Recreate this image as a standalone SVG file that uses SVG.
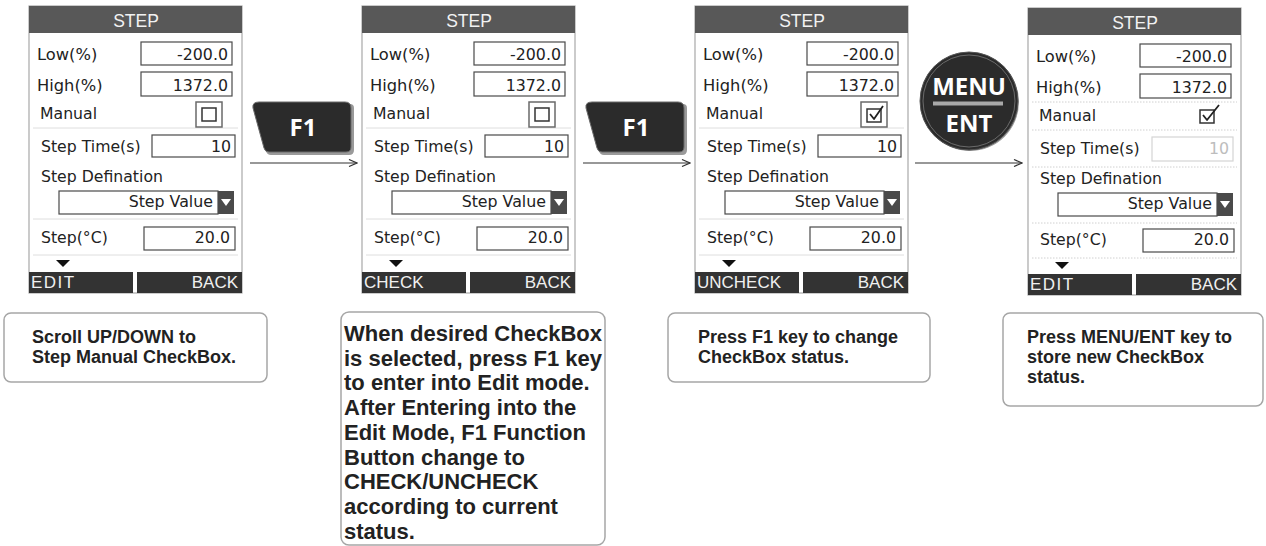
<svg xmlns="http://www.w3.org/2000/svg" width="1266" height="546" viewBox="0 0 1266 546">
<style>
.bg{fill:#ffffff}
.outer{fill:#ffffff;stroke:#a8a8a8;stroke-width:1.2}
.title{fill:#585858}
.ttl{font-family:"Liberation Sans",Arial,sans-serif;font-size:17.5px;fill:#f2f2f2;text-anchor:middle}
.lbl{font-family:"DejaVu Sans",Verdana,sans-serif;font-size:15.7px;fill:#222}
.lbl2{font-family:"DejaVu Sans",Verdana,sans-serif;font-size:16.3px;fill:#222}
.val{font-family:"DejaVu Sans",Verdana,sans-serif;font-size:15.8px;fill:#222;text-anchor:end}
.dis{font-family:"DejaVu Sans",Verdana,sans-serif;font-size:15.8px;fill:#bdbdbd;text-anchor:end}
.box{fill:#ffffff;stroke:#4a4a4a;stroke-width:1.2}
.dbox{fill:#ffffff;stroke:#d4d4d4;stroke-width:1.2}
.sep{stroke:#dedede;stroke-width:1}
.dsep{stroke:#d0d0d0;stroke-width:1;stroke-dasharray:1.5 1.5}
.bar{fill:#333333}
.btn{font-family:"Liberation Sans",Arial,sans-serif;font-size:17px;fill:#f0f0f0}
.ddarr{fill:#4a4a4a}
.cbo{fill:#ffffff;stroke:#6a6a6a;stroke-width:1.5}
.cbi{fill:#ffffff;stroke:#333;stroke-width:1.5}
.chk{fill:none;stroke:#222;stroke-width:1.8;stroke-linejoin:round}
.note{fill:#ffffff;stroke:#a6a6a6;stroke-width:1.5}
.nt{font-family:"Liberation Sans",Arial,sans-serif;font-weight:bold;font-size:18px;fill:#222}
.nt2{font-family:"Liberation Sans",Arial,sans-serif;font-weight:bold;font-size:22px;fill:#222}
.key{fill:#2b2b2b;stroke:#6a6a6a;stroke-width:1}
.keyshadow{fill:#9a9a9a}
.kt{font-family:"Open Sans","DejaVu Sans",sans-serif;font-weight:bold;font-size:24px;fill:#ffffff;text-anchor:middle}
.conn{stroke:#333;stroke-width:1.2;fill:none}
</style>
<defs>
<marker id="arr" markerUnits="userSpaceOnUse" markerWidth="10" markerHeight="8" refX="9" refY="4" orient="auto">
<path d="M1,0.5 L9,4 L1,7.5" fill="none" stroke="#333" stroke-width="1.2"/>
</marker>
<g id="frame">
<rect class="outer" x="29" y="6" width="213" height="287"/>
<rect class="title" x="29" y="6" width="213" height="27"/>
<text class="ttl" x="136" y="27">STEP</text>
<text class="lbl2" x="37" y="60">Low(%)</text>
<rect class="box" x="141" y="42" width="91" height="23"/>
<text class="val" x="228" y="60">-200.0</text>
<text class="lbl2" x="37" y="91">High(%)</text>
<rect class="box" x="141" y="72" width="91" height="24"/>
<text class="val" x="228" y="91">1372.0</text>
<text class="lbl" x="40" y="119">Manual</text>
<text class="lbl" x="41" y="152">Step Time(s)</text>
<text class="lbl" x="41" y="182">Step Defination</text>
<rect class="box" x="59" y="191" width="159" height="23"/>
<rect class="ddarr" x="218" y="191" width="16" height="23"/>
<path d="M221,199 L231,199 L226,206 Z" fill="#ffffff"/>
<text class="val" x="213" y="207">Step Value</text>
<text class="lbl" x="41" y="243">Step(°C)</text>
<rect class="box" x="144" y="227" width="91" height="23"/>
<text class="val" x="230" y="243">20.0</text>
<path d="M56,260 L70,260 L63,267 Z" fill="#111"/>
<rect class="bar" x="29" y="272" width="104" height="21"/>
<rect class="bar" x="137" y="272" width="105" height="21"/>
<text class="btn" x="238" y="288" text-anchor="end">BACK</text>
</g>
</defs>
<rect class="bg" x="0" y="0" width="1266" height="546"/>

<g id="screen1">
<use href="#frame"/>
<line class="sep" x1="33" y1="128" x2="238" y2="128"/>
<line class="sep" x1="33" y1="219" x2="238" y2="219"/>
<line class="sep" x1="33" y1="255" x2="238" y2="255"/>
<rect class="cbo" x="196" y="102" width="26" height="25"/>
<rect class="cbi" x="202" y="108" width="14" height="13"/>
<rect class="box" x="152" y="135" width="83" height="22"/>
<text class="val" x="231" y="152">10</text>
<text class="btn" x="31" y="288" letter-spacing="1.5">EDIT</text>
</g>

<g id="screen2" transform="translate(333,0)">
<use href="#frame"/>
<line class="sep" x1="33" y1="128" x2="238" y2="128"/>
<line class="sep" x1="33" y1="219" x2="238" y2="219"/>
<line class="sep" x1="33" y1="255" x2="238" y2="255"/>
<rect class="cbo" x="196" y="102" width="26" height="25"/>
<rect class="cbi" x="202" y="108" width="14" height="13"/>
<rect class="box" x="152" y="135" width="83" height="22"/>
<text class="val" x="231" y="152">10</text>
<text class="btn" x="31" y="288">CHECK</text>
</g>

<g id="screen3" transform="translate(666,0)">
<use href="#frame"/>
<line class="sep" x1="33" y1="128" x2="238" y2="128"/>
<line class="sep" x1="33" y1="219" x2="238" y2="219"/>
<line class="sep" x1="33" y1="255" x2="238" y2="255"/>
<rect class="cbo" x="195" y="102" width="26" height="25"/>
<rect class="cbi" x="201" y="109" width="14" height="13"/>
<path class="chk" d="M204,114 L208,119 L217,106"/>
<rect class="box" x="152" y="135" width="83" height="22"/>
<text class="val" x="231" y="152">10</text>
<text class="btn" x="31" y="288">UNCHECK</text>
</g>

<g id="screen4" transform="translate(999,2)">
<use href="#frame"/>
<line class="dsep" x1="33" y1="100" x2="238" y2="100"/>
<line class="dsep" x1="33" y1="128" x2="238" y2="128"/>
<line class="dsep" x1="33" y1="165" x2="238" y2="165"/>
<line class="dsep" x1="33" y1="221" x2="238" y2="221"/>
<line class="dsep" x1="33" y1="256" x2="238" y2="256"/>
<rect class="cbi" x="201" y="108" width="14" height="13"/>
<path class="chk" d="M204,113 L208,118 L220,103"/>
<rect class="dbox" x="153" y="135" width="81" height="24"/>
<text class="dis" x="230" y="152">10</text>
<text class="btn" x="31" y="288" letter-spacing="1.5">EDIT</text>
</g>

<g id="keyF1a">
<path class="keyshadow" d="M261,104 L350,104 Q354,104 354,108 L354,150 Q354,155 349,155 L271,155 Q267,155 266,151 L255,110 Q254,104 261,104 Z"/>
<path class="key" d="M259,102 L345,102 Q351,102 351,108 L351,147 Q351,152 346,152 L269,152 Q265,152 264,148 L253,108 Q252,102 259,102 Z"/>
<text class="kt" x="303" y="136">F1</text>
</g>

<g id="keyF1b">
<path class="keyshadow" d="M594,104 L683,104 Q687,104 687,108 L687,150 Q687,155 682,155 L604,155 Q600,155 599,151 L588,110 Q587,104 594,104 Z"/>
<path class="key" d="M592,102 L678,102 Q684,102 684,108 L684,147 Q684,152 679,152 L602,152 Q598,152 597,148 L586,108 Q585,102 592,102 Z"/>
<text class="kt" x="636" y="136">F1</text>
</g>

<g id="keyMenu">
<circle cx="970" cy="102" r="49" fill="#9a9a9a"/>
<circle cx="969" cy="101" r="49" fill="#2b2b2b" stroke="#555" stroke-width="1"/>
<circle cx="969" cy="101" r="46" fill="none" stroke="#7a7a7a" stroke-width="0.8"/>
<text class="kt" x="969" y="95">MENU</text>
<rect x="933" y="101.5" width="70" height="4" fill="#a8a8a8"/>
<text class="kt" x="969" y="132">ENT</text>
</g>

<g id="note1">
<rect class="note" x="4" y="313" width="263" height="69" rx="7"/>
<text class="nt" x="32" y="343">Scroll UP/DOWN to</text>
<text class="nt" x="32" y="363">Step Manual CheckBox.</text>
</g>

<g id="note2">
<rect class="note" x="341" y="312" width="264" height="233" rx="8"/>
<text class="nt2" x="344" y="341">When desired CheckBox</text>
<text class="nt2" x="344" y="365.7">is selected, press F1 key</text>
<text class="nt2" x="344" y="390.4">to enter into Edit mode.</text>
<text class="nt2" x="344" y="415.1">After Entering into the</text>
<text class="nt2" x="344" y="439.8">Edit Mode, F1 Function</text>
<text class="nt2" x="344" y="464.5">Button change to</text>
<text class="nt2" x="344" y="489.2">CHECK/UNCHECK</text>
<text class="nt2" x="344" y="513.9">according to current</text>
<text class="nt2" x="344" y="538.6">status.</text>
</g>

<g id="note3">
<rect class="note" x="668" y="313" width="262" height="69" rx="7"/>
<text class="nt" x="698" y="343" font-size="17">Press F1 key to change</text>
<text class="nt" x="698" y="363" font-size="17">CheckBox status.</text>
</g>

<g id="note4">
<rect class="note" x="1003" y="313" width="260" height="93" rx="7"/>
<text class="nt" x="1027" y="343">Press MENU/ENT key to</text>
<text class="nt" x="1027" y="363">store new CheckBox</text>
<text class="nt" x="1027" y="383">status.</text>
</g>

<g id="connectors">
<line class="conn" x1="250" y1="163" x2="357" y2="163" marker-end="url(#arr)"/>
<line class="conn" x1="583" y1="163" x2="690" y2="163" marker-end="url(#arr)"/>
<line class="conn" x1="915" y1="163" x2="1022" y2="163" marker-end="url(#arr)"/>
</g>
</svg>
